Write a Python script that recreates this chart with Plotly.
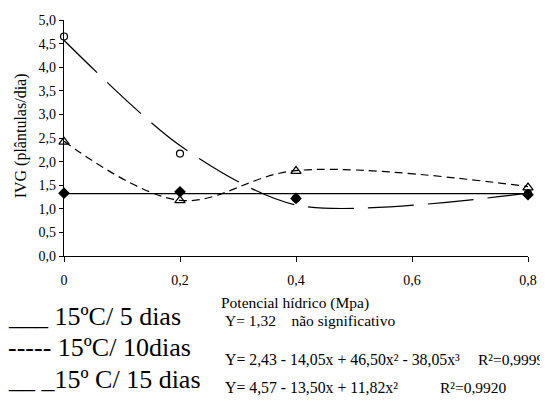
import plotly.graph_objects as go

# Data
x_vals = [0, 0.2, 0.4, 0.8]
obs_5d = [1.33, 1.36, 1.22, 1.30]      # filled diamonds (15ºC/ 5 dias)
obs_10d = [2.42, 1.18, 1.80, 1.45]     # open triangles (15ºC/ 10 dias)
obs_15d = [4.65, 2.17, 1.22, 1.32]     # open circles (15ºC/ 15 dias)
fit_5d = [1.32, 1.32, 1.32, 1.32]      # Y = 1,32
fit_10d = [2.43, 1.18, 1.81, 1.47]     # cubic fit values at x
fit_15d = [4.57, 2.34, 1.08, 1.33]     # quadratic fit values at x

y_tick_vals = [0, 0.5, 1, 1.5, 2, 2.5, 3, 3.5, 4, 4.5, 5]
y_tick_text = ["0,0", "0,5", "1,0", "1,5", "2,0", "2,5", "3,0", "3,5", "4,0", "4,5", "5,0"]
x_tick_vals = [0, 0.2, 0.4, 0.6, 0.8]
x_tick_text = ["0", "0,2", "0,4", "0,6", "0,8"]

FONT = "Liberation Serif, Times New Roman, serif"
OFF = 8  # page body margin offset
W, H = 548 - OFF, 406 - OFF
# plot area in page pixels: x 64..528, y 12.7..255.7
L = 64 - OFF
R = W - (528 - OFF)
T = 12.7 - OFF
B = H - (255.7 - OFF)
PW, PH = W - L - R, H - T - B
NB = "\u00a0"


def px(xp):
    return (xp - OFF - L) / PW


def py(yp):
    return (H - B - (yp - OFF)) / PH


fig = go.Figure()

# fitted lines
fig.add_trace(go.Scatter(x=x_vals, y=fit_5d, mode="lines",
                         line=dict(color="black", width=1.2), showlegend=False))
fig.add_trace(go.Scatter(x=x_vals, y=fit_10d, mode="lines", line_shape="spline",
                         line=dict(color="black", width=1.2, dash="8px,5px"), showlegend=False))
fig.add_trace(go.Scatter(x=x_vals, y=fit_15d, mode="lines", line_shape="spline",
                         line=dict(color="black", width=1.2, dash="46px,14px", smoothing=0.8),
                         showlegend=False))

# observed markers
fig.add_trace(go.Scatter(x=x_vals, y=obs_15d, mode="markers", cliponaxis=False,
                         marker=dict(symbol="circle-open", size=7, color="black",
                                     line=dict(width=1.2)), showlegend=False))
fig.add_trace(go.Scatter(x=x_vals, y=obs_10d, mode="markers", cliponaxis=False,
                         marker=dict(symbol="triangle-up-open", size=9, color="black",
                                     line=dict(width=1.2)), showlegend=False))
fig.add_trace(go.Scatter(x=x_vals, y=obs_5d, mode="markers", cliponaxis=False,
                         marker=dict(symbol="diamond", size=9, color="black"), showlegend=False))

annotations = [
    dict(text="IVG (plântulas/dia)", x=px(21), y=py(132.5), textangle=-90,
         font=dict(size=16)),
    dict(text="Potencial hídrico (Mpa)", x=px(221), y=py(304), xanchor="left",
         font=dict(size=15.5)),
    dict(text="Y= 1,32" + NB * 4 + "não significativo", x=px(225), y=py(322), xanchor="left",
         font=dict(size=15.5)),
    dict(text="Y= 2,43 - 14,05x + 46,50x² - 38,05x³", x=px(225), y=py(362), xanchor="left",
         font=dict(size=15.8)),
    dict(text="R²=0,9999", x=px(478), y=py(362), xanchor="left", font=dict(size=15.5)),
    dict(text="Y= 4,57 - 13,50x + 11,82x²", x=px(225), y=py(391), xanchor="left",
         font=dict(size=15.8)),
    dict(text="R²=0,9920", x=px(440), y=py(391), xanchor="left", font=dict(size=15.5)),
    dict(text="___ 15ºC/ 5 dias", x=px(8), y=py(318), xanchor="left", font=dict(size=26)),
    dict(text="----- 15ºC/ 10dias", x=px(8), y=py(350), xanchor="left", font=dict(size=26)),
    dict(text="__ _15º C/ 15 dias", x=px(8), y=py(383), xanchor="left", font=dict(size=26)),
]
for a in annotations:
    a.update(xref="paper", yref="paper", showarrow=False, yanchor="middle",
             borderpad=0, borderwidth=0)
    a.setdefault("xanchor", "center")
    a["font"].update(family=FONT, color="black")

fig.update_layout(
    width=W, height=H,
    margin=dict(l=L, r=R, t=T, b=B, pad=0),
    paper_bgcolor="white", plot_bgcolor="white",
    font=dict(family=FONT, color="black", size=14),
    annotations=annotations,
    xaxis=dict(range=[0, 0.8], tickvals=x_tick_vals, ticktext=x_tick_text,
               showgrid=False, zeroline=False, showline=True, linecolor="black",
               linewidth=1.2, ticks="outside", ticklen=5, tickcolor="black",
               ticklabelstandoff=6, ticklabeloverflow="allow",
               tickfont=dict(size=14, family=FONT)),
    yaxis=dict(range=[0, 5], tickvals=y_tick_vals, ticktext=y_tick_text,
               showgrid=False, zeroline=False, showline=True, linecolor="black",
               linewidth=1.2, ticks="outside", ticklen=4, tickcolor="black",
               ticklabeloverflow="allow",
               tickfont=dict(size=14, family=FONT)),
)

fig.write_html("out.html")
